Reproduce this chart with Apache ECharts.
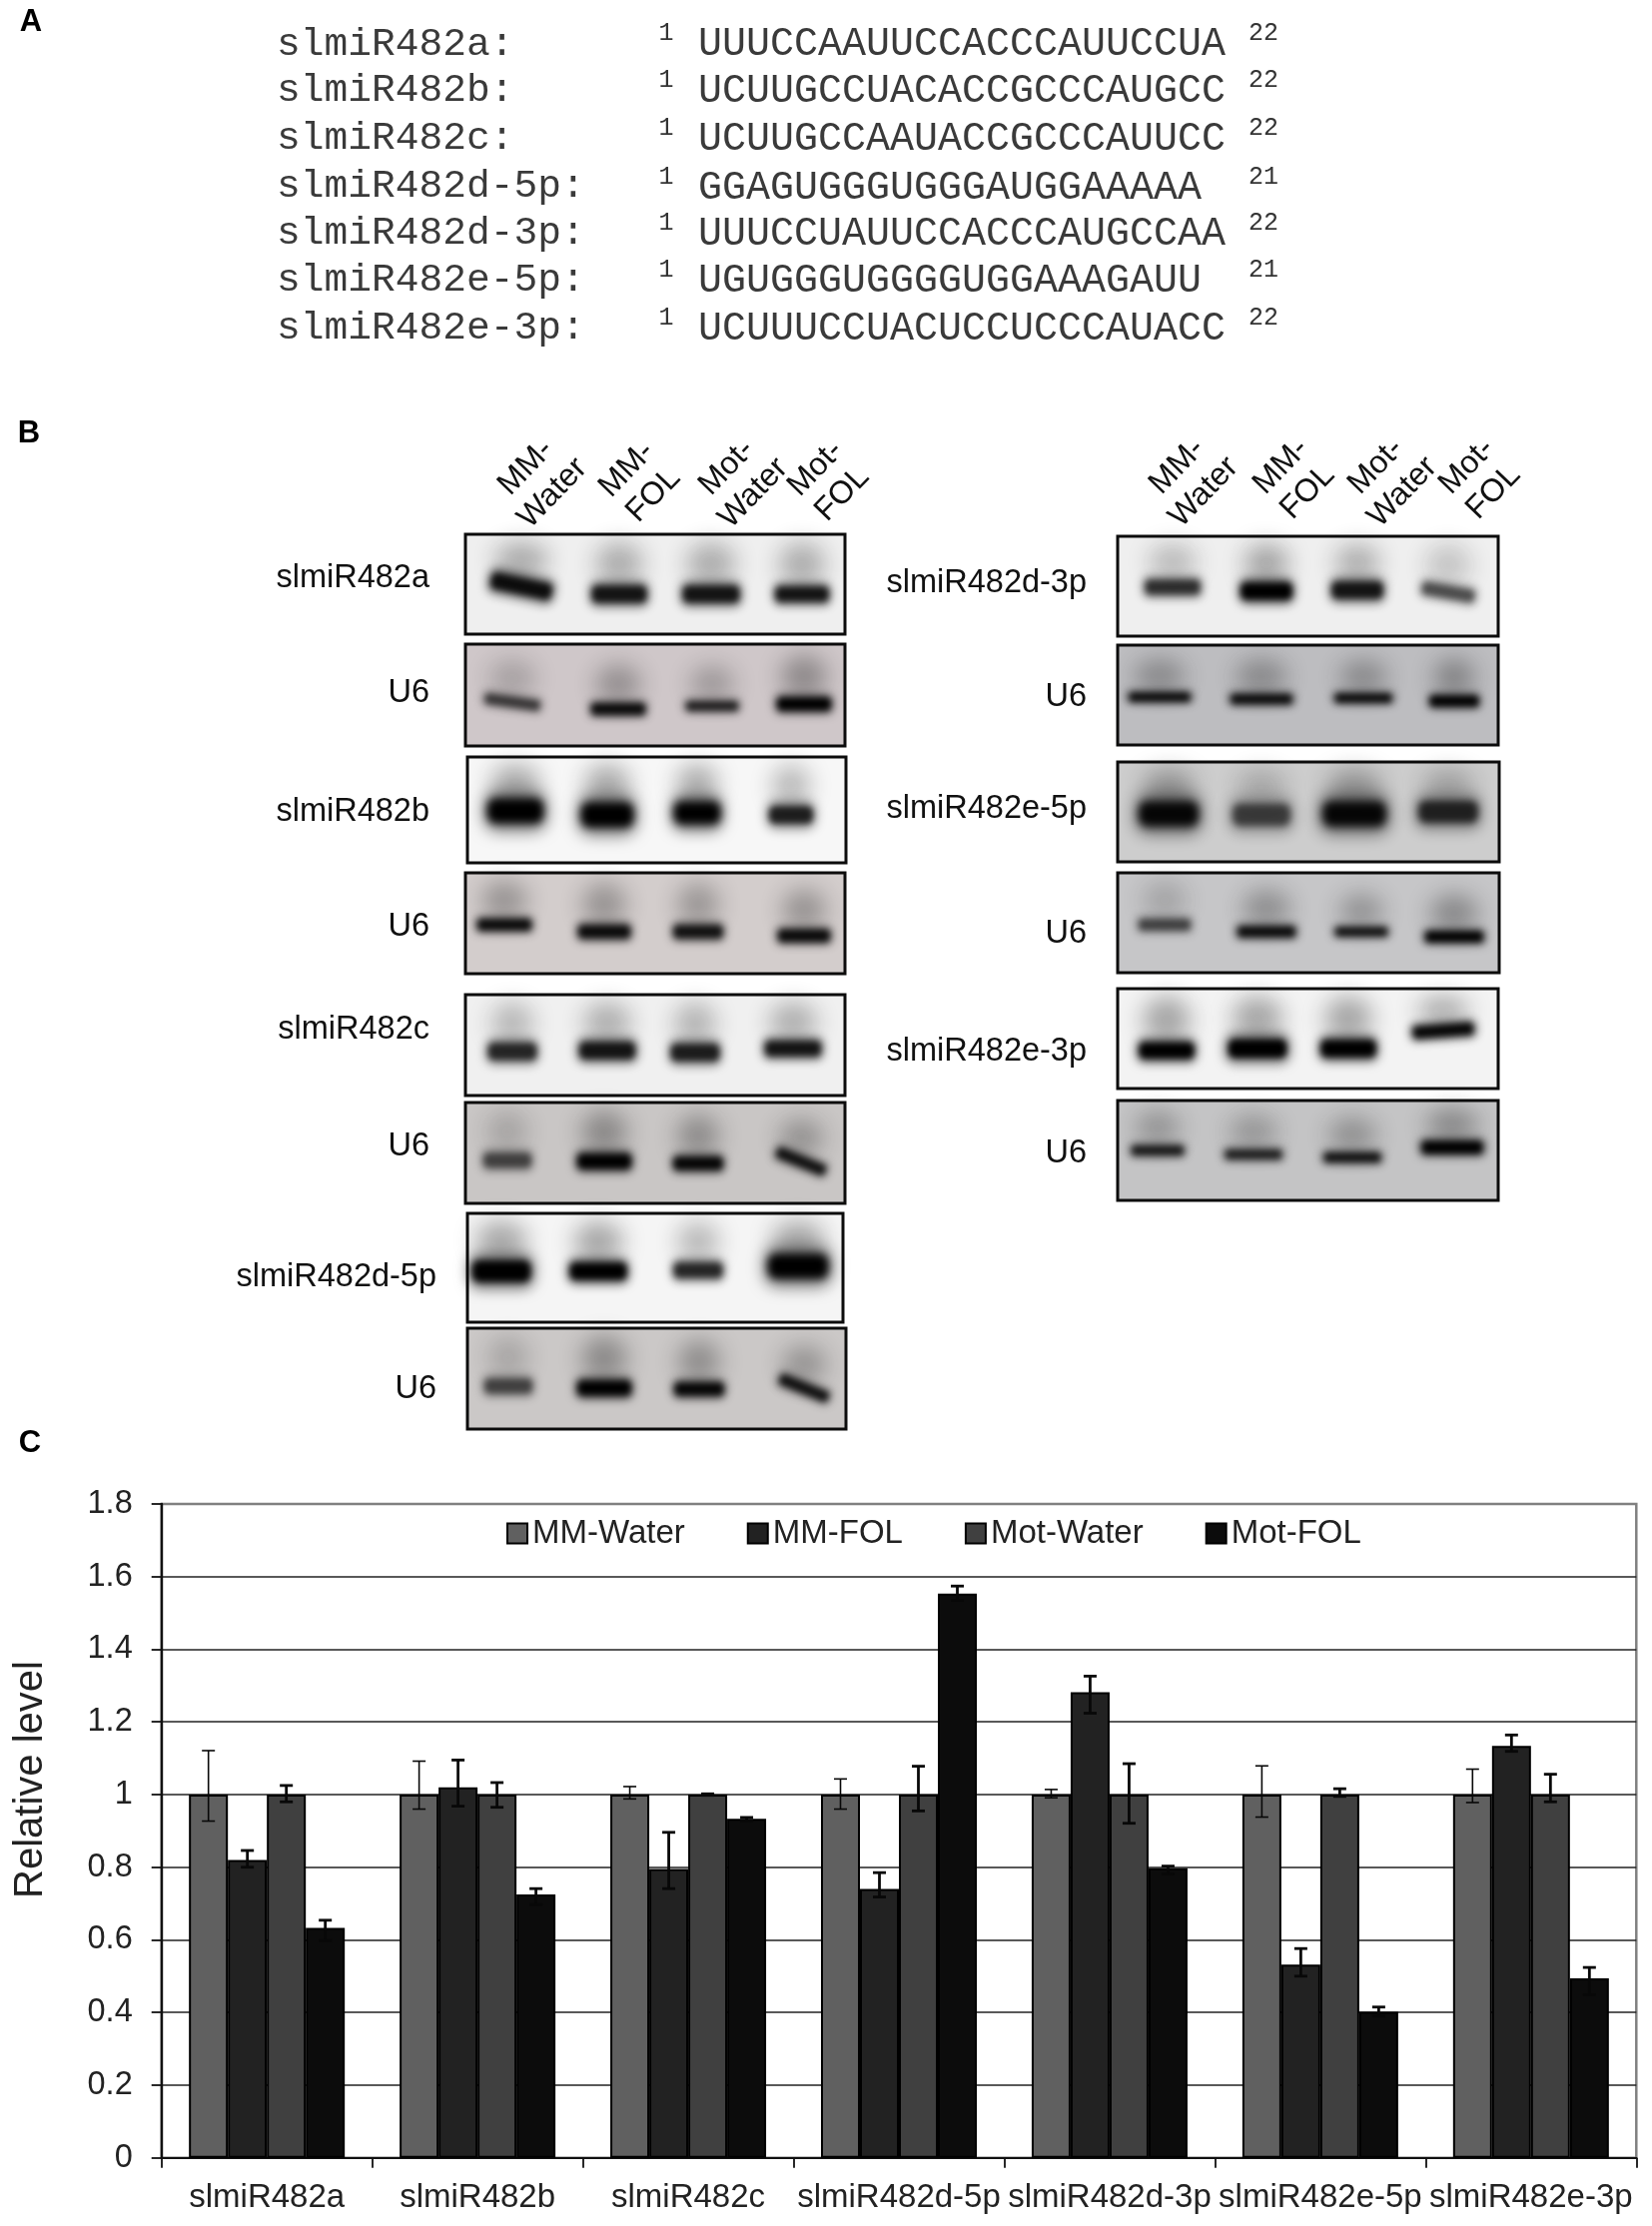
<!DOCTYPE html>
<html><head><meta charset="utf-8">
<style>html,body{margin:0;padding:0;background:#fff}#c{width:1654px;height:2229px}</style>
<script src="https://cdn.jsdelivr.net/npm/echarts@6/dist/echarts.min.js"></script>
</head><body><div id="c"></div>
<script>
// ---- Data: panel C ----
const categories = ['slmiR482a','slmiR482b','slmiR482c','slmiR482d-5p','slmiR482d-3p','slmiR482e-5p','slmiR482e-3p'];
const seriesNames = ['MM-Water','MM-FOL','Mot-Water','Mot-FOL'];
const mmWater  = [1, 1, 1, 1, 1, 1, 1];
const mmFol    = [0.82, 1.02, 0.795, 0.74, 1.282, 0.532, 1.134];
const motWater = [1, 1, 1, 1, 1, 1, 1];
const motFol   = [0.633, 0.725, 0.933, 1.553, 0.797, 0.402, 0.494];
const mmWaterLow  = [0.927, 0.96, 0.988, 0.96, 0.991, 0.938, 0.978];
const mmWaterHigh = [1.121, 1.092, 1.022, 1.043, 1.014, 1.079, 1.07];
const mmFolLow    = [0.80, 0.968, 0.741, 0.718, 1.224, 0.50, 1.119];
const mmFolHigh   = [0.846, 1.095, 0.896, 0.785, 1.326, 0.576, 1.164];
const motWaterLow  = [0.98, 0.965, 0.998, 0.955, 0.921, 0.995, 0.98];
const motWaterHigh = [1.025, 1.033, 1.002, 1.078, 1.085, 1.016, 1.056];
const motFolLow    = [0.598, 0.697, 0.928, 1.535, 0.781, 0.39, 0.449];
const motFolHigh   = [0.654, 0.741, 0.937, 1.574, 0.803, 0.415, 0.524];
// ---- Data: panel A ----
const seqNames = ['slmiR482a:','slmiR482b:','slmiR482c:','slmiR482d-5p:','slmiR482d-3p:','slmiR482e-5p:','slmiR482e-3p:'];
const seqs = ['UUUCCAAUUCCACCCAUUCCUA','UCUUGCCUACACCGCCCAUGCC','UCUUGCCAAUACCGCCCAUUCC','GGAGUGGGUGGGAUGGAAAAA','UUUCCUAUUCCACCCAUGCCAA','UGUGGGUGGGGUGGAAAGAUU','UCUUUCCUACUCCUCCCAUACC'];
const seqEnds = ['22','22','22','21','22','21','22'];
// ---- Data: panel B ----
const laneLabels = ['MM-\nWater','MM-\nFOL','Mot-\nWater','Mot-\nFOL'];
const blotLabels = ['slmiR482a','U6','slmiR482b','U6','slmiR482c','U6','slmiR482d-5p','U6','slmiR482d-3p','U6','slmiR482e-5p','U6','slmiR482e-3p','U6'];
const bandStrength = [
 [.9,.85,.85,.85],[.6,.9,.75,1],[1,1,1,.8],[.9,.9,.85,.9],[.75,.85,.8,.85],[.55,1,.95,.85],[1,1,.75,1],
 [.55,1,.95,.85],[.7,1,.85,.55],[.9,.9,.9,1],[.95,.6,.95,.75],[.55,.9,.85,1],[1,1,1,.95],[.8,.75,.85,1]
];

// ---- Layout (separate from values) ----
const font = '"Liberation Sans", Arial, sans-serif';
const mono = '"Liberation Mono", monospace';
const barW = 39;
const nameY = [45,91,139,187,234,281,329];
const seqY = [44,91,139,188,234,281,329];
const supY = [33,80,128,177,223,270,318];
// frame: x0,y0,x1,y1, background, labelRightX, labelY
const frames = [
 [466,535,846,635,'#efefef',430,579],[466,645,846,747,'#cfc7c9',430,694],
 [468,758,847,864,'#f7f7f7',430,813],[466,874,846,975,'#d3cdcc',430,928],
 [466,996,846,1097,'#f0f0f0',430,1031],[466,1104,846,1205,'#c9c6c5',430,1148],
 [468,1215,844,1324,'#f5f5f5',437,1279],[468,1330,847,1431,'#cbc8c7',437,1391],
 [1119,537,1500,637,'#efefef',1088,584],[1119,646,1500,746,'#bdbdc0',1088,698],
 [1119,763,1501,863,'#cdcdcd',1088,810],[1119,874,1501,974,'#c6c6c8',1088,935],
 [1119,990,1500,1090,'#f3f3f3',1088,1053],[1119,1102,1500,1202,'#c4c4c5',1088,1155]
];
// per blot: band [cx,cy,w,h,rotationDeg] (positive rotation is counter-clockwise)
const bands = [
 [[522,587,70,20,-12],[620,595,62,20,0],[712,595,64,20,0],[803,595,60,18,0]],
 [[513,703,62,12,-8],[619,710,60,13,0],[713,707,58,11,0],[805,705,60,15,0]],
 [[516,812,64,30,0],[608,816,60,30,0],[698,814,53,27,0],[792,816,50,21,0]],
 [[505,926,60,13,0],[605,933,58,15,0],[699,933,55,15,0],[805,937,58,14,0]],
 [[513,1053,55,20,0],[608,1052,63,20,0],[696,1054,55,20,0],[794,1050,63,18,0]],
 [[508,1162,54,17,0],[605,1163,60,17,0],[699,1165,55,15,0],[802,1163,58,12,-22]],
 [[502,1273,67,26,0],[599,1273,64,20,0],[699,1272,55,18,0],[799,1268,69,30,0]],
 [[509,1388,54,17,0],[605,1390,60,17,0],[700,1391,55,15,0],[805,1390,58,12,-22]],
 [[1174,588,62,17,0],[1268,592,58,20,0],[1359,591,58,20,0],[1450,593,60,15,-10]],
 [[1161,698,68,10,0],[1263,700,68,11,0],[1365,699,63,10,0],[1456,702,54,12,0]],
 [[1170,815,68,30,0],[1263,816,66,26,0],[1356,815,72,30,0],[1450,813,68,26,0]],
 [[1166,926,58,13,0],[1268,933,64,12,0],[1363,933,58,10,0],[1456,938,64,12,0]],
 [[1168,1052,62,19,0],[1259,1050,66,22,0],[1350,1050,62,20,0],[1445,1032,68,14,4]],
 [[1159,1152,58,11,0],[1255,1156,63,11,0],[1354,1159,63,11,0],[1454,1149,68,14,0]]
];
const laneHeaders = [[540,481],[641,483],[741,481],[830,482],[1192,480],[1296,480],[1391,480],[1482,480]];

const g = [];
function txt(x,y,text,size,opt){
  g.push({type:'text',x,y,z:20,style:Object.assign({text,font:size+'px '+font,fontFamily:font,fontSize:size,fill:'#1c1c1c',align:'left',verticalAlign:'middle'},opt||{})});
}
// Panel letters
[['A',31,22],['B',29,434],['C',30,1445]].forEach(a=>txt(a[1],a[2],a[0],31,{align:'center',fontWeight:'bold',fill:'#000',font:'bold 31px '+font}));
// Y-axis title sits off-centre in the reference
g.push({type:'text',x:31,y:1782,rotation:Math.PI/2,z:20,style:{text:'Relative level',font:'40px '+font,fontFamily:font,fontSize:40,fill:'#222',align:'center',verticalAlign:'middle'}});
// Panel A
seqNames.forEach((n,i)=>{
  txt(277,nameY[i],n,39.6,{fontFamily:mono,fontSize:39.6,fill:'#3a3a3a',font:'39.6px '+mono});
  txt(699,seqY[i],seqs[i],40,{fontFamily:mono,fontSize:40,fill:'#3a3a3a',font:'40px '+mono});
  txt(667,supY[i],'1',25,{fontFamily:mono,fontSize:25,font:'25px '+mono,fill:'#333',align:'center'});
  txt(1250,supY[i],seqEnds[i],25,{fontFamily:mono,fontSize:25,font:'25px '+mono,fill:'#333'});
});
// Panel B
laneHeaders.forEach((p,i)=>{
  g.push({type:'text',x:p[0],y:p[1],rotation:46*Math.PI/180,z:20,
    style:{text:laneLabels[i%4],font:'32px '+font,fontFamily:font,fontSize:32,lineHeight:37,fill:'#111',align:'center',verticalAlign:'middle'}});
});
// a soft blob: the shape itself lies off the page, only its blurred shadow lands on the blot
const OFF = 4000;
function soft(type,shape,x,y,rot,color,blur,z){
  g.push({type,z,x:x-OFF,y,rotation:rot*Math.PI/180,silent:true,shape,
    style:{fill:'#000',shadowColor:color,shadowBlur:blur,shadowOffsetX:OFF}});
}
frames.forEach((f,bi)=>{
  g.push({type:'rect',z:5,shape:{x:f[0],y:f[1],width:f[2]-f[0],height:f[3]-f[1]},style:{fill:f[4]}});
  bands[bi].forEach((b,li)=>{
    const s=bandStrength[bi][li];
    const top=b[1]-b[3]*0.4;
    const ry=Math.min(b[3]*0.9+8,(top-f[1]-8)/2);
    // smear above the band
    soft('ellipse',{cx:0,cy:0,rx:b[2]*0.38,ry},b[0],top-ry,0,'rgba(30,30,30,'+(0.36*s).toFixed(3)+')',22,6);
    // halo and core of the band
    soft('rect',{x:-b[2]*0.5,y:-b[3]*0.7,width:b[2],height:b[3]*1.4,r:b[3]*0.5},b[0],b[1],b[4]||0,'rgba(0,0,0,'+(0.5*s).toFixed(3)+')',Math.max(9,b[3]*0.5),7);
    soft('rect',{x:-b[2]*0.44,y:-b[3]*0.42,width:b[2]*0.88,height:b[3]*0.84,r:b[3]*0.3},b[0],b[1],b[4]||0,'rgba(0,0,0,'+s.toFixed(3)+')',Math.max(6,b[3]*0.3),8);
  });
  g.push({type:'rect',z:9,shape:{x:f[0],y:f[1],width:f[2]-f[0],height:f[3]-f[1]},style:{fill:'none',stroke:'#0c0c0c',lineWidth:3}});
  txt(f[5],f[6],blotLabels[bi],32.5,{align:'right',fill:'#111'});
});

// ---- Chart ----
const colors=['#606060','#222222','#404040','#0c0c0c'];
const values=[mmWater,mmFol,motWater,motFol];
const lows=[mmWaterLow,mmFolLow,motWaterLow,motFolLow];
const highs=[mmWaterHigh,mmFolHigh,motWaterHigh,motFolHigh];
const series=[];
seriesNames.forEach((n,i)=>{
  series.push({name:n,type:'bar',barWidth:barW,barGap:'0%',data:values[i],z:3,
    itemStyle:{color:colors[i],borderColor:'#000',borderWidth:2}});
});
seriesNames.forEach((n,i)=>{
  series.push({name:n+' error',type:'custom',z:4,silent:true,
    data:categories.map((c,k)=>[k,lows[i][k],highs[i][k]]),
    encode:{x:0,y:[1,2]},
    renderItem:(params,api)=>{
      const x=api.coord([api.value(0),0])[0]+(i-1.5)*barW;
      const y0=api.coord([api.value(0),api.value(1)])[1];
      const y1=api.coord([api.value(0),api.value(2)])[1];
      const cap=6.5;
      const style={stroke:'#080808',lineWidth:i===0?1.6:2.8,fill:'none'};
      return {type:'group',children:[
        {type:'line',shape:{x1:x,y1:y0,x2:x,y2:y1},style},
        {type:'line',shape:{x1:x-cap,y1:y0,x2:x+cap,y2:y0},style},
        {type:'line',shape:{x1:x-cap,y1:y1,x2:x+cap,y2:y1},style}
      ]};
    }});
});

const chart=echarts.init(document.getElementById('c'));
chart.setOption({
  animation:false,
  backgroundColor:'#fff',
  textStyle:{fontFamily:font},
  grid:{left:161.7,right:15.7,top:1506,bottom:68.3,show:true,borderColor:'#808080',borderWidth:2.5,backgroundColor:'transparent'},
  legend:{data:seriesNames,left:502,top:1514,icon:'rect',itemWidth:20,itemHeight:20,itemGap:62,
    textStyle:{fontFamily:font,fontSize:33,color:'#222'}},
  xAxis:{type:'category',data:categories,
    axisLine:{lineStyle:{color:'#111',width:2}},
    axisTick:{show:true,alignWithLabel:false,length:10,lineStyle:{color:'#111',width:1.8}},
    axisLabel:{interval:0,margin:24,fontFamily:font,fontSize:33,color:'#222'}},
  yAxis:{type:'value',min:0,max:1.8,interval:0.2,
    axisLine:{show:true,lineStyle:{color:'#111',width:2.4}},
    axisTick:{show:true,length:10,lineStyle:{color:'#111',width:1.8}},
    axisLabel:{margin:29,fontFamily:font,fontSize:32.5,color:'#222'},
    splitLine:{show:true,showMaxLine:false,lineStyle:{color:'#222',width:1.6}}},
  series,
  graphic:{elements:g}
});
</script></body></html>
